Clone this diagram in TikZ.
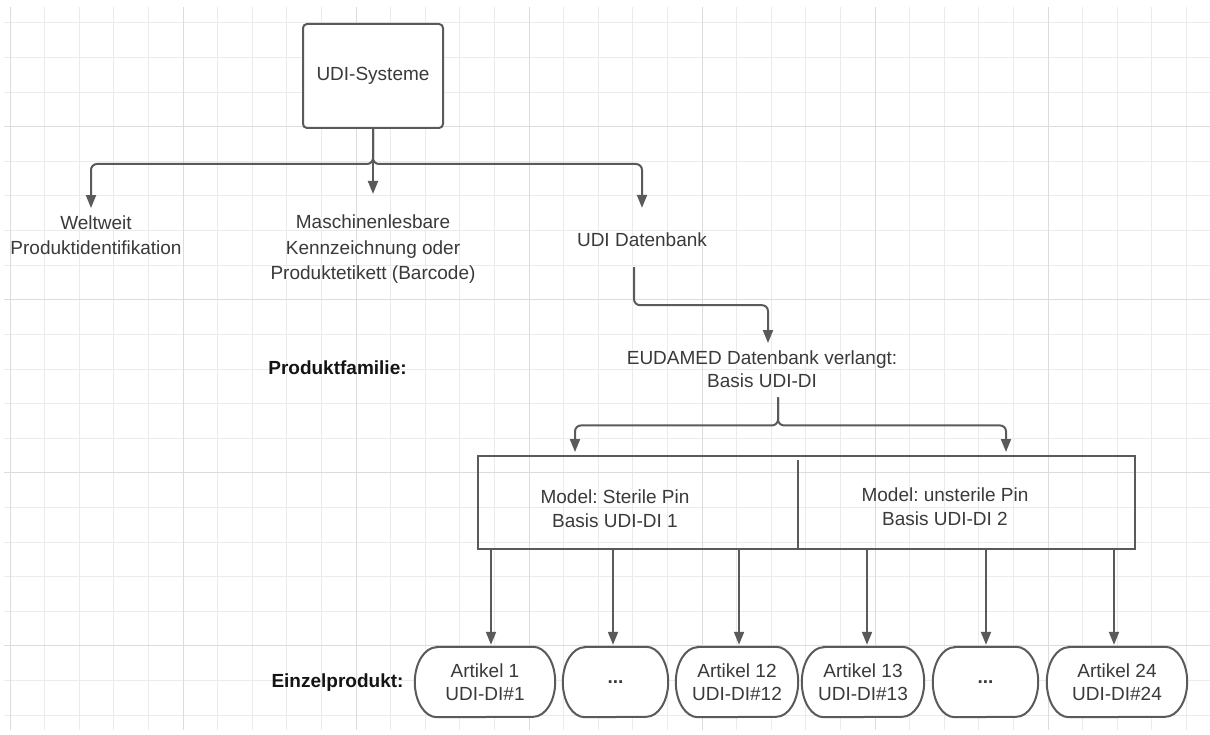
\documentclass[tikz,border=0pt]{standalone}
\usepackage{fontspec}
\setmainfont{Liberation Sans}
\usetikzlibrary{arrows.meta}
\definecolor{ink}{HTML}{5A5A5A}
\definecolor{txt}{HTML}{3A3A3A}
\definecolor{gridminor}{HTML}{EBEBEB}
\definecolor{gridmajor}{HTML}{DCDCDC}
\pgfdeclarelayer{grid}
\pgfdeclarelayer{outline}
\pgfsetlayers{grid,outline,main}
\frenchspacing

% stadium-like outline with elliptic ends around an item node
\newcommand\itemoutline[1]{%
  \begin{pgfonlayer}{outline}
    \draw[itemline] ([xshift=22pt]#1.north west) -- ([xshift=-22pt]#1.north east)
      arc[start angle=90, end angle=-90, x radius=22pt, y radius=35pt]
      -- ([xshift=22pt]#1.south west)
      arc[start angle=270, end angle=90, x radius=22pt, y radius=35pt] -- cycle;
  \end{pgfonlayer}}

\begin{document}
\begin{tikzpicture}[x=1pt,y=1pt,
  every node/.style={font=\fontsize{19}{23.5}\selectfont, text=txt},
  lbl/.style={inner sep=0pt, align=center},
  widelbl/.style={inner sep=0pt, align=center, font=\fontsize{19}{25.5}\selectfont},
  head/.style={inner sep=0pt, font=\fontsize{19}{23.5}\selectfont\bfseries, text=black!92},
  conn/.style={draw=ink, line width=2pt, rounded corners=6pt,
               -{Triangle[width=10pt,length=13pt]}},
  rootbox/.style={draw=ink, line width=2pt, fill=white, rounded corners=4pt,
                  minimum width=140pt, minimum height=104pt, inner sep=0pt},
  famframe/.style={draw=ink, line width=2pt, minimum width=657pt,
                   minimum height=93pt, inner sep=0pt},
  itembox/.style={minimum height=70pt, inner sep=0pt, align=center},
  itemline/.style={draw=ink, line width=2pt, fill=white},
]
\useasboundingbox (0,0) rectangle (1210,-735);

% squared paper
\begin{pgfonlayer}{grid}
  \fill[white] (0,0) rectangle (1210,-735);
  \foreach \k in {0,...,34} {
    \pgfmathsetmacro\gx{10+34.6*\k}
    \draw[gridminor, line width=1pt] (\gx,-7) -- (\gx,-730);
  }
  \foreach \k in {0,...,20} {
    \pgfmathsetmacro\gy{23+34.6*\k}
    \draw[gridminor, line width=1pt] (4,-\gy) -- (1210,-\gy);
  }
  \foreach \k in {0,5,...,30} {
    \pgfmathsetmacro\gx{10+34.6*\k}
    \draw[gridmajor, line width=1pt] (\gx,-7) -- (\gx,-730);
  }
  \foreach \k in {3,8,13,18} {
    \pgfmathsetmacro\gy{23+34.6*\k}
    \draw[gridmajor, line width=1pt] (4,-\gy) -- (1210,-\gy);
  }
\end{pgfonlayer}

% top level
\node[rootbox] (sys) at (373,-76) {UDI-Systeme};
\node[widelbl] (welt)  at (96,-235)    {Weltweit\\Produktidentifikation};
\node[widelbl] (masch) at (373,-249.5) {Maschinenlesbare\\Kennzeichnung oder\\Produktetikett (Barcode)};
\node[lbl] (udidb) at (642,-240)  {UDI Datenbank};

\draw[conn, shorten >=7pt]  (sys.south) -- ++(0,-35) -| ([xshift=-5pt]welt.north);
\draw[conn, shorten >=21pt] (sys.south) -- (masch.north);
\draw[conn, shorten >=25pt] (sys.south) -- ++(0,-35) -| (udidb.north);

% product family level
\node[head] (famlabel) at (337.5,-368) {Produktfamilie:};
\node[lbl] (eud) at (762,-369) {EUDAMED Datenbank verlangt:\\Basis UDI-DI};

\draw[conn, shorten <=20pt, shorten >=7pt]
  ([xshift=-8pt]udidb.south) -- ++(0,-58) -| ([xshift=6pt]eud.north);

\node[famframe] (family) at (806.5,-502.5) {};
\draw[ink, line width=2pt] ([xshift=321pt,yshift=-5pt]family.north west)
  -- ([xshift=321pt,yshift=2pt]family.south west);
\node[lbl] (sterile)   at (615,-508.5) {Model: Sterile Pin\\Basis UDI-DI 1};
\node[lbl] (unsterile) at (945,-506.5) {Model: unsterile Pin\\Basis UDI-DI 2};

\draw[conn, shorten <=9.5pt, shorten >=3pt]
  ([xshift=16pt]eud.south) -- ++(0,-37.5) -| ([xshift=98pt]family.north west);
\draw[conn, shorten <=9.5pt, shorten >=3pt]
  ([xshift=16pt]eud.south) -- ++(0,-37.5) -| ([xshift=-130pt]family.north east);

% single products
\node[head] (einzlabel) at (337.5,-683) {Einzelprodukt:};
\node[itembox, minimum width=140pt] (a1)  at (485,-682)   {Artikel 1\\UDI-DI\#1};
\node[itembox, minimum width=105pt] (d1)  at (615.5,-682) {\raisebox{-3pt}{\textbf{...}}};
\node[itembox, minimum width=122pt] (a12) at (737,-682)   {Artikel 12\\UDI-DI\#12};
\node[itembox, minimum width=122pt] (a13) at (863,-682)   {Artikel 13\\UDI-DI\#13};
\node[itembox, minimum width=105pt] (d2)  at (985.5,-682) {\raisebox{-3pt}{\textbf{...}}};
\node[itembox, minimum width=140pt] (a24) at (1117,-682)  {Artikel 24\\UDI-DI\#24};
\foreach \n in {a1,d1,a12,a13,d2,a24} { \itemoutline{\n} }

\foreach \n/\s in {a1/6, d1/-2.5, a12/2, a13/4, d2/0.5, a24/-3}
  \draw[conn, shorten >=2pt] ([xshift=\s pt]\n.north |- family.south) -- ([xshift=\s pt]\n.north);
\end{tikzpicture}
\end{document}
